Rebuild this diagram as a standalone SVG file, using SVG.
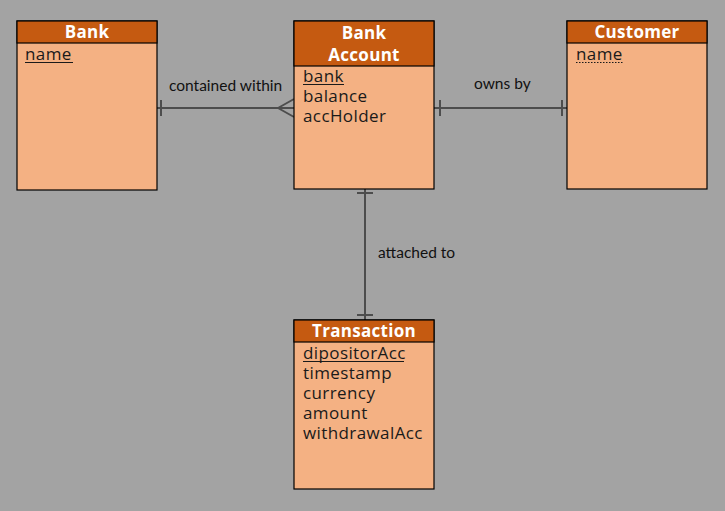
<svg xmlns="http://www.w3.org/2000/svg" width="725" height="511" viewBox="0 0 725 511">
<style>
.body{fill:#f4b183;stroke:#000;stroke-width:1.2}
.head{fill:#c55a11;stroke:#000;stroke-width:1.2}
.ht{font-family:"Open Sans","Liberation Sans",sans-serif;font-weight:bold;font-size:17px;fill:#fff;text-anchor:middle;letter-spacing:0.3px}
.at{font-family:"Open Sans","Liberation Sans",sans-serif;font-size:17px;fill:#1a1a1a;letter-spacing:0.4px}
.lb{font-family:Lato,"Liberation Sans",sans-serif;font-size:15.5px;fill:#111}
.ln{stroke:#4d4d4d;stroke-width:2;fill:none}
.ul{stroke:#1a1a1a;stroke-width:1}
</style>
<rect width="725" height="511" fill="#a3a3a3"/>
<g id="connectors">
<path class="ln" d="M157 108H294M161 100V116M278 108L294 99M278 108L294 117"/>
<path class="ln" d="M434 108H567M440 100V116M562 100V116"/>
<path class="ln" d="M365 189V320M357 193H373M357 315H373"/>
<text class="lb" x="169" y="91">contained within</text>
<text class="lb" x="474" y="89">owns by</text>
<text class="lb" x="378" y="258">attached to</text>
</g>
<g id="bank">
<rect class="body" x="17" y="21" width="140" height="169"/>
<rect class="head" x="17" y="21" width="140" height="22"/>
<text class="ht" x="87" y="38">Bank</text>
<text class="at" x="25" y="60">name</text>
<line class="ul" x1="25" y1="62.5" x2="73" y2="62.5"/>
</g>
<g id="bankaccount">
<rect class="body" x="294" y="21" width="140" height="168"/>
<rect class="head" x="294" y="21" width="140" height="45"/>
<text class="ht" x="364" y="39">Bank</text>
<text class="ht" x="364" y="61">Account</text>
<text class="at" x="303" y="82">bank</text>
<line class="ul" x1="303" y1="84.5" x2="344" y2="84.5"/>
<text class="at" x="303" y="102">balance</text>
<text class="at" x="303" y="122">accHolder</text>
</g>
<g id="customer">
<rect class="body" x="567" y="21" width="140" height="168"/>
<rect class="head" x="567" y="21" width="140" height="22"/>
<text class="ht" x="637" y="38">Customer</text>
<text class="at" x="576" y="60">name</text>
<line class="ul" x1="576" y1="62.5" x2="623" y2="62.5" stroke-dasharray="1.5 1.5"/>
</g>
<g id="transaction">
<rect class="body" x="294" y="320" width="140" height="169"/>
<rect class="head" x="294" y="320" width="140" height="22"/>
<text class="ht" x="364" y="337">Transaction</text>
<text class="at" x="303" y="359">dipositorAcc</text>
<line class="ul" x1="303" y1="361.5" x2="404" y2="361.5"/>
<text class="at" x="303" y="379">timestamp</text>
<text class="at" x="303" y="399">currency</text>
<text class="at" x="303" y="419">amount</text>
<text class="at" x="303" y="439">withdrawalAcc</text>
</g>
</svg>
